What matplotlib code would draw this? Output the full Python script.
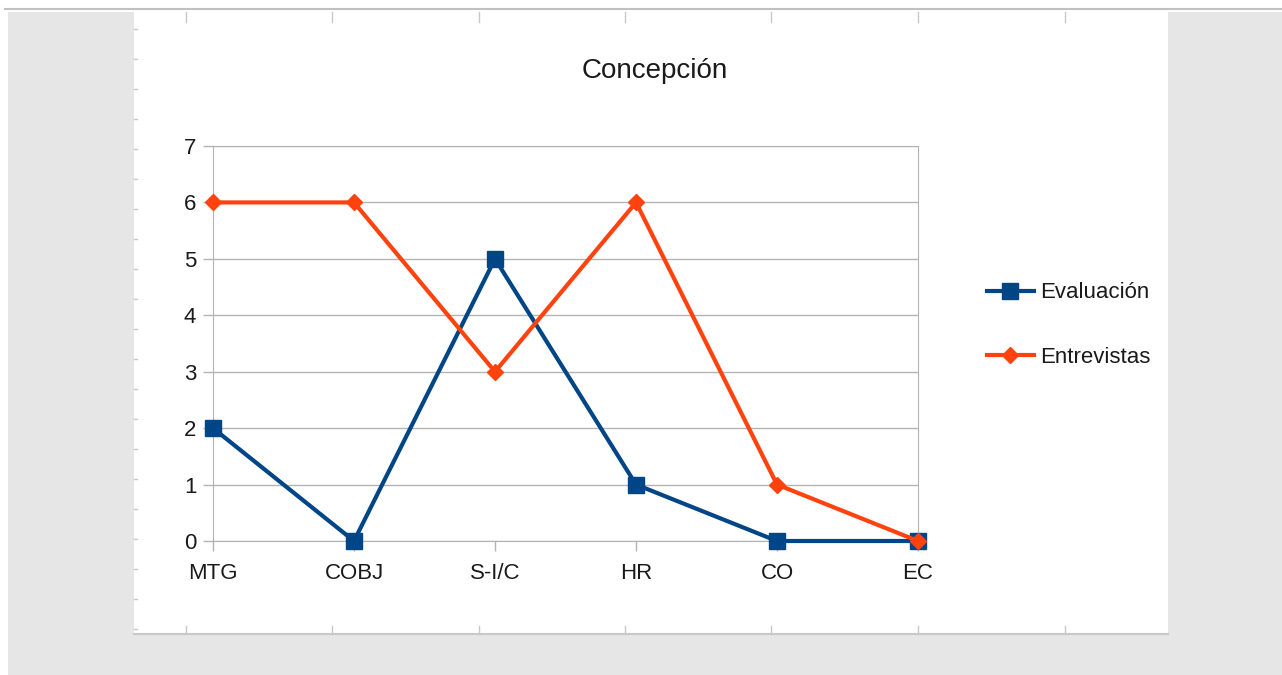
import matplotlib.pyplot as plt
from matplotlib.patches import Rectangle
from matplotlib.lines import Line2D

plt.rcParams['font.family'] = ['Liberation Sans', 'DejaVu Sans']

# Data
categories = ["MTG", "COBJ", "S-I/C", "HR", "CO", "EC"]
evaluacion = [2, 0, 5, 1, 0, 0]
entrevistas = [6, 6, 3, 6, 1, 0]

W, H = 1282, 675
fig = plt.figure(figsize=(W / 100, H / 100), dpi=100)
fig.patch.set_facecolor("white")

def fx(px):
    return px / W

def fy(py):
    return 1 - py / H

# page background (screenshot of a document)
fig.add_artist(Rectangle((fx(8), 0), 1 - fx(8), fy(12), transform=fig.transFigure,
                         facecolor="#e6e6e6", edgecolor="none", zorder=0))
fig.add_artist(Rectangle((fx(134), fy(634)), fx(1168) - fx(134), fy(12) - fy(634),
                         transform=fig.transFigure, facecolor="white",
                         edgecolor="none", zorder=0))
fig.add_artist(Line2D([fx(134), fx(1168)], [fy(634), fy(634)], transform=fig.transFigure,
                      color="#c8c8c8", linewidth=1.5))
fig.add_artist(Line2D([fx(5), 1], [fy(9), fy(9)], transform=fig.transFigure,
                      color="#c0c0c0", linewidth=1.5))
for x in [186, 332, 479, 625, 771, 918, 1065]:
    fig.add_artist(Line2D([fx(x), fx(x)], [fy(12), fy(22)], transform=fig.transFigure,
                          color="#c8c8c8", linewidth=1))
    fig.add_artist(Line2D([fx(x), fx(x)], [fy(626), fy(634)], transform=fig.transFigure,
                          color="#c8c8c8", linewidth=1))
for y in range(29, 630, 30):
    fig.add_artist(Line2D([fx(134), fx(137)], [fy(y), fy(y)], transform=fig.transFigure,
                          color="#c8c8c8", linewidth=1))

ax = fig.add_axes([fx(213), fy(541), fx(918) - fx(213), fy(146) - fy(541)])
ax.set_facecolor("none")

x = range(len(categories))
ax.plot(x, evaluacion, color="#004586", linewidth=3, marker="s", markersize=11,
        label="Evaluación", zorder=3, clip_on=False)
ax.plot(x, entrevistas, color="#ff420e", linewidth=3, marker="D", markersize=8,
        label="Entrevistas", zorder=4, clip_on=False)

ax.set_xlim(0, len(categories) - 1)
ax.set_ylim(0, 7)
ax.set_xticks(list(x))
ax.set_xticklabels(categories)
ax.set_yticks(range(0, 8))
ax.grid(axis="y", color="#b3b3b3", linewidth=1)
for s in ax.spines.values():
    s.set_color("#b3b3b3")
ax.tick_params(axis="both", colors="#b3b3b3", labelcolor="#1a1a1a", labelsize=16,
               length=7, width=1, direction="out")
ax.tick_params(axis="x", pad=9)
ax.tick_params(axis="y", pad=5)

fig.text(fx(655), fy(71), "Concepción", ha="center", va="center", fontsize=20,
         color="#1a1a1a")

ax.legend(loc="center left", bbox_to_anchor=(fx(967), fy(325)),
          bbox_transform=fig.transFigure, frameon=False, fontsize=16,
          handlelength=2.1, labelspacing=1.95, handletextpad=0.3,
          labelcolor="#1a1a1a")

fig.savefig("out.png", dpi=100)
